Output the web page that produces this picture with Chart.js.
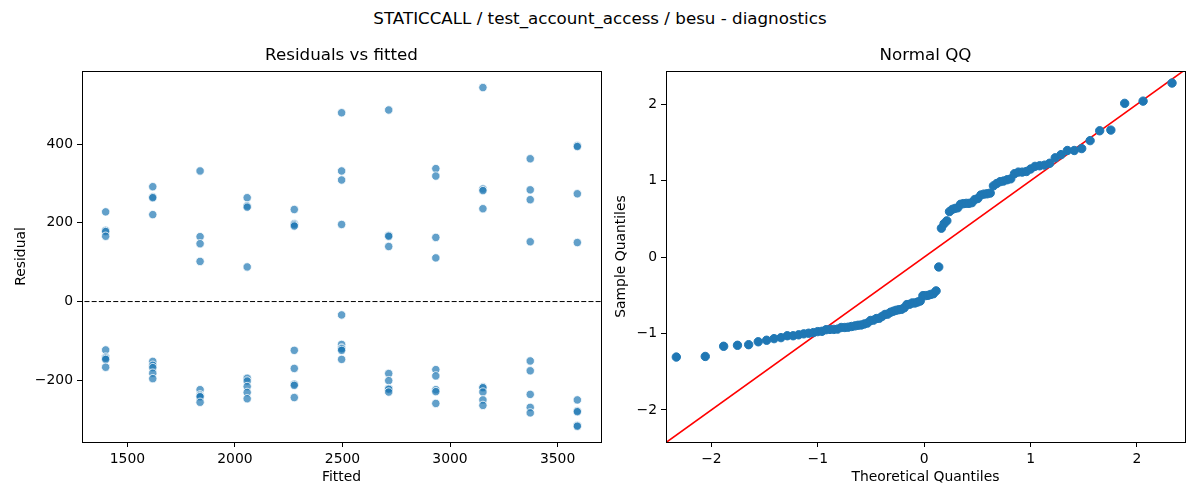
<!DOCTYPE html>
<html lang="en">
<head>
<meta charset="UTF-8">
<title>STATICCALL / test_account_access / besu - diagnostics</title>
<style>
  body { margin: 0; background: #fff; font-family: "DejaVu Sans", sans-serif; }
  .fig { position: relative; width: 1200px; height: 500px; }
  .suptitle {
    position: absolute; left: 0; top: 8px; width: 1200px;
    text-align: center; font-size: 16.7px; line-height: 20px; color: #000;
  }
  #residChart { position: absolute; left: 0; top: 0; }
  #qqChart { position: absolute; left: 600px; top: 0; }
</style>
</head>
<body>
<div class="fig">
  <div class="suptitle">STATICCALL / test_account_access / besu - diagnostics</div>
  <canvas id="residChart" width="605" height="500"></canvas>
  <canvas id="qqChart" width="600" height="500"></canvas>
</div>

<script src="https://cdn.jsdelivr.net/npm/chart.js"></script>
<script>
  // Fitted values (one column of points per level) and the residuals at each level
  const fittedLevels = [1399, 1618, 1838, 2057, 2276, 2496, 2715, 2934, 3153, 3373, 3592];
  const residuals = [
    [228, 181, 178, 166, -123, -141, -144, -147, -167],
    [292, 266, 264, 221, -152, -162, -168, -182, -196],
    [332, 165, 147, 102, -224, -237, -240, -242, -256],
    [264, 243, 240, 88, -195, -202, -216, -231, -247],
    [234, 198, 195, 192, -124, -170, -210, -213, -244],
    [480, 332, 309, 196, -34, -109, -118, -120, -124, -147],
    [487, 168, 166, 140, -183, -201, -221, -223, -230],
    [338, 319, 163, 111, -173, -189, -224, -229, -259],
    [544, 286, 282, 236, -217, -219, -230, -250, -264],
    [363, 284, 259, 152, -151, -176, -236, -269, -283],
    [396, 394, 274, 150, -250, -278, -280, -315, -317]
  ];
  const residTicksX = [1500, 2000, 2500, 3000, 3500];
  const residTicksY = [-200, 0, 200, 400];
  const zeroLineX = [1200, 3800];

  // Normal QQ: theoretical vs sample quantiles
  const theoreticalQ = [
    -2.330, -2.058, -1.885, -1.755, -1.650, -1.560, -1.481, -1.411, -1.346, -1.287,
    -1.232, -1.180, -1.132, -1.086, -1.042, -1.001, -0.961, -0.922, -0.885, -0.849,
    -0.814, -0.780, -0.746, -0.714, -0.682, -0.651, -0.621, -0.591, -0.562, -0.533,
    -0.504, -0.476, -0.449, -0.422, -0.395, -0.368, -0.342, -0.316, -0.290, -0.264,
    -0.238, -0.213, -0.187, -0.162, -0.137, -0.112, -0.087, -0.062, -0.037, -0.012,
    0.012, 0.037, 0.062, 0.087, 0.112, 0.137, 0.162, 0.187, 0.213, 0.238,
    0.264, 0.290, 0.316, 0.342, 0.368, 0.395, 0.422, 0.449, 0.476, 0.504,
    0.533, 0.562, 0.591, 0.621, 0.651, 0.682, 0.714, 0.746, 0.780, 0.814,
    0.849, 0.885, 0.922, 0.961, 1.001, 1.042, 1.086, 1.132, 1.180, 1.232,
    1.287, 1.346, 1.411, 1.481, 1.560, 1.650, 1.755, 1.885, 2.058, 2.330
  ];
  const sampleQ = [
    -1.308, -1.300, -1.167, -1.154, -1.146, -1.108, -1.088, -1.067, -1.054, -1.029,
    -1.029, -1.017, -1.004, -0.996, -0.988, -0.975, -0.971, -0.950, -0.946, -0.946,
    -0.942, -0.921, -0.921, -0.917, -0.908, -0.900, -0.892, -0.888, -0.875, -0.863,
    -0.829, -0.825, -0.804, -0.800, -0.775, -0.750, -0.746, -0.721, -0.708, -0.696,
    -0.688, -0.683, -0.663, -0.621, -0.617, -0.600, -0.600, -0.588, -0.575, -0.504,
    -0.504, -0.500, -0.488, -0.479, -0.442, -0.129, 0.379, 0.438, 0.475, 0.596,
    0.625, 0.638, 0.646, 0.692, 0.700, 0.704, 0.704, 0.713, 0.754, 0.767,
    0.813, 0.825, 0.829, 0.838, 0.933, 0.963, 0.988, 0.996, 1.013, 1.025,
    1.092, 1.113, 1.113, 1.121, 1.154, 1.188, 1.196, 1.204, 1.229, 1.300,
    1.342, 1.396, 1.396, 1.421, 1.525, 1.654, 1.663, 2.013, 2.042, 2.279
  ];
  const qqTicks = [-2, -1, 0, 1, 2];
  const refLine = [-3, 3];  // 45 degree line, clipped to the plot

  const residPoints = [];
  fittedLevels.forEach((f, i) => residuals[i].forEach(r => residPoints.push({x: f, y: r})));
  const qqPoints = theoreticalQ.map((q, i) => ({x: q, y: sampleQ[i]}));

  const FONT = 'DejaVu Sans';
  const minus = v => String(v).replace('-', '\u2212');

  // matplotlib-style frame on all four sides
  const boxPlugin = {
    id: 'box',
    afterDraw(chart) {
      const {ctx, chartArea: a} = chart;
      const l = Math.round(a.left) + 0.5, t = Math.round(a.top) + 0.5;
      const r = Math.round(a.right) + 0.5, b = Math.round(a.bottom) + 0.5;
      ctx.save();
      ctx.strokeStyle = '#000';
      ctx.lineWidth = 1;
      ctx.strokeRect(l, t, r - l, b - t);
      ctx.restore();
    }
  };

  function axis(title, ticks, min, max, size, isX) {
    return {
      type: 'linear',
      min: min,
      max: max,
      afterBuildTicks: s => { s.ticks = ticks.map(v => ({value: v})); },
      afterFit: s => { if (isX) s.height = size; else s.width = size; },
      grid: { drawOnChartArea: false, drawTicks: true, tickLength: 5, tickColor: '#000', tickWidth: 1 },
      border: { display: false },
      ticks: {
        color: '#000', padding: 4, maxRotation: 0,
        font: { family: FONT, size: 13.9 },
        callback: v => minus(v)
      },
      title: {
        display: true, text: title, color: '#000',
        font: { family: FONT, size: 13.9 },
        padding: isX ? { top: 0, bottom: 14 } : { top: 13.5, bottom: 0 }
      }
    };
  }

  function titleOpts(text) {
    return {
      display: true, text: text, color: '#000', fullSize: false,
      font: { family: FONT, size: 16.7, weight: 'normal' },
      padding: { top: 45.7, bottom: 5.3 }
    };
  }

  new Chart(document.getElementById('residChart'), {
    type: 'scatter',
    data: {
      datasets: [
        {
          data: residPoints,
          backgroundColor: 'rgba(31, 119, 180, 0.7)',
          borderColor: '#ffffff',
          borderWidth: 0.8,
          pointRadius: 4.2
        },
        {
          data: zeroLineX.map(x => ({x: x, y: 0})),
          showLine: true,
          borderColor: '#000',
          borderWidth: 1,
          borderDash: [5, 2.2],
          pointRadius: 0,
          clip: 0
        }
      ]
    },
    options: {
      responsive: false,
      animation: false,
      layout: { padding: { left: 0, right: 4, top: 0, bottom: 0 }, autoPadding: false },
      plugins: {
        legend: { display: false },
        tooltip: { enabled: false },
        title: titleOpts('Residuals vs fitted')
      },
      scales: {
        x: axis('Fitted', residTicksX, 1289, 3702, 58, true),
        y: axis('Residual', residTicksY, -357, 586, 82, false)
      }
    },
    plugins: [boxPlugin]
  });

  new Chart(document.getElementById('qqChart'), {
    type: 'scatter',
    data: {
      datasets: [
        {
          data: qqPoints,
          backgroundColor: '#1f77b4',
          borderColor: '#1f77b4',
          borderWidth: 1,
          pointRadius: 4.2
        },
        {
          data: refLine.map(v => ({x: v, y: v})),
          showLine: true,
          borderColor: '#ff0000',
          borderWidth: 1.6,
          pointRadius: 0,
          clip: 0
        }
      ]
    },
    options: {
      responsive: false,
      animation: false,
      layout: { padding: { left: 0, right: 15, top: 0, bottom: 0 }, autoPadding: false },
      plugins: {
        legend: { display: false },
        tooltip: { enabled: false },
        title: titleOpts('Normal QQ')
      },
      scales: {
        x: axis('Theoretical Quantiles', qqTicks, -2.427, 2.452, 58, true),
        y: axis('Sample Quantiles', qqTicks, -2.42, 2.436, 66, false)
      }
    },
    plugins: [boxPlugin]
  });
</script>
</body>
</html>
